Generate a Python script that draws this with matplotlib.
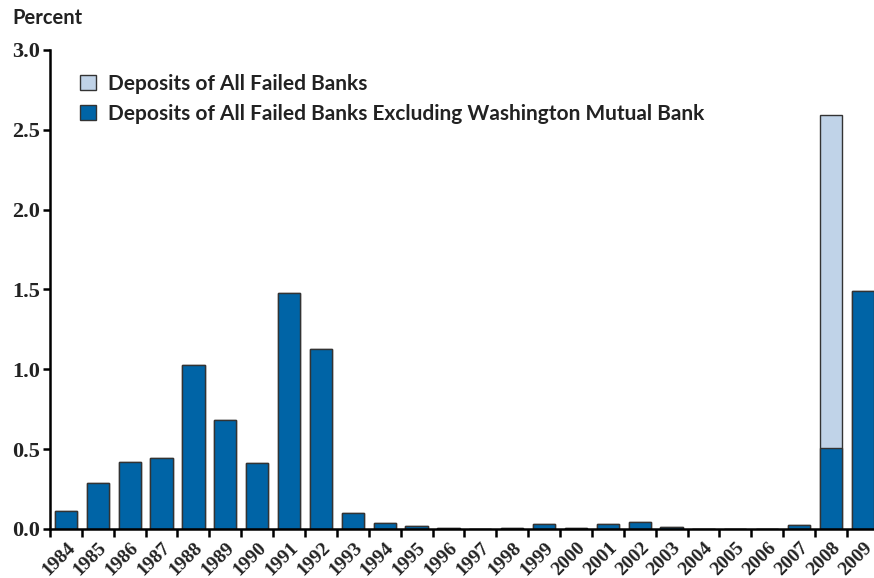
import numpy as np
import matplotlib.pyplot as plt
from matplotlib.patches import Patch

years = [str(y) for y in range(1984, 2010)]
# deposits of all failed banks (percent)
all_failed = [0.11, 0.29, 0.42, 0.445, 1.03, 0.68, 0.415, 1.48, 1.13, 0.10,
              0.04, 0.02, 0.005, 0.0, 0.005, 0.03, 0.005, 0.03, 0.045, 0.015,
              0.0, 0.0, 0.0, 0.025, 2.59, 1.49]
# excluding Washington Mutual
excl_wamu = [0.11, 0.29, 0.42, 0.445, 1.03, 0.68, 0.415, 1.48, 1.13, 0.10,
             0.04, 0.02, 0.005, 0.0, 0.005, 0.03, 0.005, 0.03, 0.045, 0.015,
             0.0, 0.0, 0.0, 0.025, 0.51, 1.49]

LIGHT = "#c0d3e8"
DARK = "#0064a6"
EDGE = "#333333"

fig = plt.figure(figsize=(8.74, 5.78), dpi=100)
ax = fig.add_axes([0.0572, 0.0848, 0.9428, 0.8287])

x = np.arange(len(years))
ax.bar(x, all_failed, width=0.7, color=LIGHT, edgecolor=EDGE, linewidth=1.0)
ax.bar(x, excl_wamu, width=0.7, color=DARK, edgecolor=EDGE, linewidth=1.0)

ax.set_xlim(-0.5, 25.35)
ax.set_ylim(0, 3.0)

for s in ["top", "right"]:
    ax.spines[s].set_visible(False)
ax.spines["left"].set_linewidth(1.8)
ax.spines["bottom"].set_linewidth(1.8)

ax.set_yticks(np.arange(0, 3.01, 0.5))
ax.set_yticklabels(["%.1f" % v for v in np.arange(0, 3.01, 0.5)],
                   fontfamily="Liberation Serif", fontweight="bold", fontsize=16,
                   color="#222222")
ax.tick_params(axis="y", length=5, width=1.8, pad=2)

ax.set_xticks(x - 0.5, minor=False)
ax.set_xticklabels([])
ax.tick_params(axis="x", length=6, width=1.8)
for i, y in enumerate(years):
    ax.text(i + 0.16, -0.09, y, rotation=45, ha="right", va="center_baseline",
            rotation_mode="anchor", fontfamily="Liberation Serif",
            fontweight="bold", fontsize=14, color="#222222",
            transform=ax.transData, clip_on=False)

fig.text(0.014, 0.958, "Percent", fontfamily="Lato", fontsize=14.5,
         fontweight="bold", color="#222222")

handles = [Patch(facecolor=LIGHT, edgecolor=EDGE, label="Deposits of All Failed Banks"),
           Patch(facecolor=DARK, edgecolor=EDGE,
                 label="Deposits of All Failed Banks Excluding Washington Mutual Bank")]
ax.legend(handles=handles, loc="upper left", bbox_to_anchor=(0.014, 0.99),
          frameon=False, prop={"family": "Lato", "size": 15, "weight": "bold"},
          handlelength=0.75, handleheight=0.75, handletextpad=0.6, labelspacing=0.5,
          labelcolor="#222222")

fig.savefig("out.png", dpi=100)
